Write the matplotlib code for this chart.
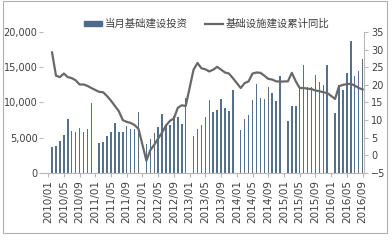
import matplotlib
matplotlib.use('Agg')
import matplotlib.pyplot as plt
import numpy as np
from matplotlib.patches import Patch, Rectangle
from matplotlib.lines import Line2D
from matplotlib.ticker import FuncFormatter

plt.rcParams['font.family'] = ['DejaVu Sans']
cjk = ['Noto Sans CJK SC', 'DejaVu Sans']

nan = np.nan
years = ['2010', '2011', '2012', '2013', '2014', '2015', '2016']
months = [f'{y}/{m:02d}' for y in years for m in range(1, 13)][:81]

# 当月基础建设投资 (January not published -> nan)
invest_2010 = [nan, 3620, 3860, 4570, 5380, 7710, 5950, 5860, 6330, 5860, 6240, 9860]
invest_2011 = [nan, 4190, 4430, 5240, 5860, 7050, 5860, 5810, 6710, 6240, 6240, 8670]
invest_2012 = [nan, 4100, 4860, 5620, 6480, 8330, 6810, 6810, 8050, 7950, 7000, 10670]
invest_2013 = [nan, 5190, 6240, 6810, 7950, 10330, 8620, 9000, 10430, 9240, 8810, 11810]
invest_2014 = [nan, 6100, 7670, 8190, 10330, 12570, 10570, 10430, 12190, 11380, 10190, 13800]
invest_2015 = [nan, 7430, 9570, 9570, 12100, 15290, 12140, 12190, 13860, 12950, 12480, 15330]
invest_2016 = [nan, 8520, 12480, 11710, 14240, 18670, 13710, 14430, 16100]

# 基础设施建设累计同比 (%)
yoy_2010 = [nan, 29.2, 22.6, 22.2, 23.2, 22.2, 21.9, 21.3, 20.1, 20.1, 19.7, 19.1]
yoy_2011 = [nan, 18.0, 17.9, 16.8, 15.5, 14.0, 12.5, 10.0, 9.5, 9.2, 8.6, 7.5]
yoy_2012 = [nan, -1.5, 1.5, 3.0, 4.8, 6.5, 8.5, 9.8, 10.5, 13.5, 14.2, 14.0]
yoy_2013 = [nan, 24.3, 26.2, 24.7, 24.4, 23.8, 24.3, 25.1, 24.3, 23.5, 23.2, 21.9]
yoy_2014 = [nan, 19.1, 20.5, 21.0, 23.2, 23.5, 23.4, 22.6, 21.7, 21.5, 21.0, 20.9]
yoy_2015 = [nan, 21.0, 23.4, 21.0, 19.1, 19.1, 18.9, 18.8, 18.4, 18.2, 17.9, 17.7]
yoy_2016 = [nan, 16.0, 19.6, 20.0, 20.2, 20.3, 19.8, 19.1, 18.7]

invest = np.array(invest_2010 + invest_2011 + invest_2012 + invest_2013
                  + invest_2014 + invest_2015 + invest_2016)
yoy = np.array(yoy_2010 + yoy_2011 + yoy_2012 + yoy_2013
               + yoy_2014 + yoy_2015 + yoy_2016)

bar_color = '#55708b'
line_color = '#686868'
tick_color = '#404040'
axis_gray = '#b8b8b8'

fig = plt.figure(figsize=(3.92, 2.4), dpi=100)
ax = fig.add_axes([0.110, 0.279, 0.819, 0.588])
x = np.arange(len(months))

ax.bar(x, invest, width=0.38, color=bar_color, zorder=2)
ax.set_xlim(-1.27, 80.4)
ax.set_ylim(0, 20000)
ax.set_yticks(range(0, 20001, 5000))
ax.yaxis.set_major_formatter(FuncFormatter(lambda v, p: f'{int(v):,}'))
ax.set_xticks(x[::4])
ax.set_xticklabels(months[::4], rotation=90)

for s in ['top', 'right', 'left']:
    ax.spines[s].set_visible(False)
ax.spines['bottom'].set_color(axis_gray)
ax.tick_params(axis='x', length=3, color=axis_gray, labelsize=7.5,
               labelcolor=tick_color, pad=2)
ax.tick_params(axis='y', length=3, color=axis_gray, labelsize=7,
               labelcolor=tick_color, pad=1)

ax2 = ax.twinx()
ok = ~np.isnan(yoy)
ax2.plot(x[ok], yoy[ok], color=line_color, lw=1.6, zorder=3)
ax2.set_ylim(-5, 35)
ax2.set_yticks(range(-5, 36, 5))
for s in ['top', 'left', 'bottom']:
    ax2.spines[s].set_visible(False)
ax2.spines['right'].set_color(axis_gray)
ax2.tick_params(axis='y', length=3, color=axis_gray, labelsize=7,
                labelcolor=tick_color, pad=2)

handles = [Patch(color='#4e6a8c'), Line2D([], [], color=line_color, lw=1.6)]
fig.legend(handles, ['当月基础建设投资', '基础设施建设累计同比'], ncol=2,
           loc='center', bbox_to_anchor=(0.528, 0.9), frameon=False,
           prop={'family': cjk, 'size': 7.5}, labelcolor=tick_color,
           handlelength=1.7, handleheight=0.45, handletextpad=0.3,
           columnspacing=1.6)

# outer frame
fig.patches.append(Rectangle((0.008, 0.029), 0.979, 0.967, transform=fig.transFigure,
                             fill=False, ec='#b0b0b0', lw=0.8))

fig.savefig('out.png', dpi=100)
